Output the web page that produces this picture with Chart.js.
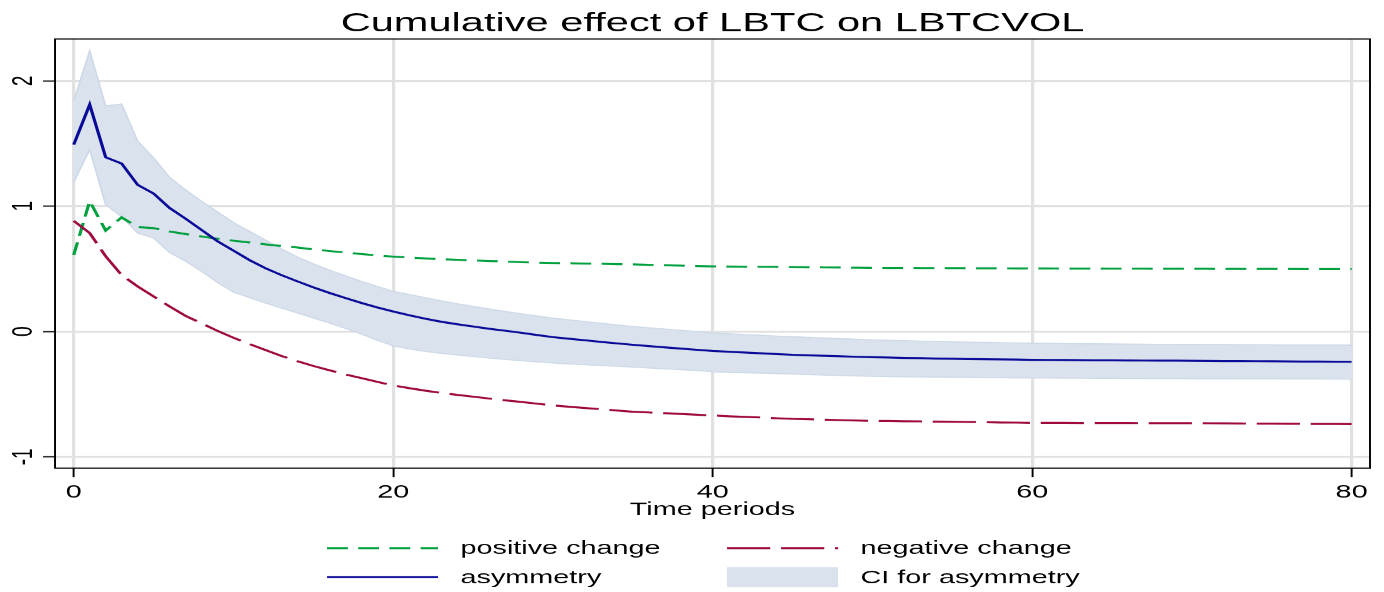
<!DOCTYPE html>
<html>
<head>
<meta charset="utf-8">
<script src="https://cdn.jsdelivr.net/npm/chart.js@4.4.1/dist/chart.umd.min.js"></script>
<style>
  html, body { margin: 0; padding: 0; background: #fff; }
  #chart { display: block; }
</style>
</head>
<body>
<!-- laid out 865px wide, shown 1384px wide: the Stata export is stretched sideways -->
<canvas id="chart" width="865" height="592" style="width:1384px;height:592px"></canvas>
<script>
var STRETCH = 1.6;

var periods = [
  0, 1, 2, 3, 4, 5, 6, 7, 8, 9,
  10, 11, 12, 13, 14, 15, 16, 17, 18, 19,
  20, 21, 22, 23, 24, 25, 26, 27, 28, 29,
  30, 31, 32, 33, 34, 35, 36, 37, 38, 39,
  40, 41, 42, 43, 44, 45, 46, 47, 48, 49,
  50, 51, 52, 53, 54, 55, 56, 57, 58, 59,
  60, 61, 62, 63, 64, 65, 66, 67, 68, 69,
  70, 71, 72, 73, 74, 75, 76, 77, 78, 79, 80
];

var positive = [
  0.61, 1.04, 0.805, 0.91, 0.833, 0.825, 0.798, 0.777, 0.758, 0.74,
  0.724, 0.71, 0.695, 0.682, 0.67, 0.655, 0.642, 0.63, 0.618, 0.607,
  0.597, 0.59, 0.583, 0.577, 0.572, 0.567, 0.562, 0.558, 0.553, 0.549,
  0.546, 0.544, 0.542, 0.54, 0.537, 0.535, 0.532, 0.529, 0.525, 0.522,
  0.519, 0.518, 0.517, 0.516, 0.515, 0.513, 0.512, 0.511, 0.51, 0.509,
  0.508, 0.507, 0.507, 0.506, 0.506, 0.505, 0.505, 0.504, 0.504, 0.503,
  0.503, 0.503, 0.502, 0.502, 0.502, 0.501, 0.501, 0.501, 0.5, 0.5,
  0.5, 0.5, 0.499, 0.499, 0.499, 0.499, 0.499, 0.498, 0.498, 0.498, 0.498
];

var negative = [
  0.883, 0.785, 0.6, 0.45, 0.36, 0.28, 0.2, 0.125, 0.065, 0.005,
  -0.05, -0.1, -0.148, -0.195, -0.237, -0.275, -0.309, -0.342, -0.372, -0.402,
  -0.43, -0.452, -0.472, -0.49, -0.506, -0.52, -0.535, -0.549, -0.562, -0.576,
  -0.59, -0.6, -0.61, -0.62, -0.63, -0.64, -0.646, -0.652, -0.658, -0.664,
  -0.67, -0.676, -0.681, -0.686, -0.692, -0.697, -0.7, -0.704, -0.707, -0.71,
  -0.713, -0.714, -0.716, -0.717, -0.719, -0.72, -0.722, -0.724, -0.726, -0.727,
  -0.729, -0.729, -0.729, -0.73, -0.73, -0.73, -0.73, -0.731, -0.731, -0.731,
  -0.731, -0.732, -0.733, -0.734, -0.735, -0.735, -0.736, -0.737, -0.738, -0.738, -0.739
];

var asymmetry = [
  1.49, 1.81, 1.39, 1.34, 1.17, 1.10, 0.985, 0.90, 0.81, 0.72,
  0.645, 0.57, 0.505, 0.45, 0.40, 0.352, 0.308, 0.267, 0.228, 0.192,
  0.16, 0.13, 0.102, 0.078, 0.058, 0.04, 0.022, 0.006, -0.01, -0.028,
  -0.045, -0.058, -0.07, -0.083, -0.095, -0.106, -0.117, -0.127, -0.137, -0.146,
  -0.155, -0.162, -0.168, -0.174, -0.18, -0.186, -0.19, -0.194, -0.198, -0.202,
  -0.205, -0.208, -0.211, -0.213, -0.216, -0.218, -0.22, -0.221, -0.223, -0.224,
  -0.226, -0.227, -0.228, -0.229, -0.23, -0.23, -0.231, -0.232, -0.233, -0.233,
  -0.234, -0.235, -0.236, -0.236, -0.237, -0.238, -0.239, -0.24, -0.24, -0.241, -0.242
];

var ciUpper = [
  1.84, 2.24, 1.80, 1.815, 1.52, 1.385, 1.23, 1.13, 1.04, 0.955,
  0.87, 0.80, 0.73, 0.66, 0.595, 0.54, 0.49, 0.445, 0.40, 0.36,
  0.32, 0.295, 0.27, 0.245, 0.222, 0.20, 0.18, 0.16, 0.142, 0.124,
  0.107, 0.093, 0.08, 0.066, 0.053, 0.04, 0.03, 0.02, 0.01, 0.0,
  -0.012, -0.018, -0.024, -0.03, -0.036, -0.042, -0.047, -0.052, -0.057, -0.062,
  -0.066, -0.07, -0.073, -0.076, -0.079, -0.082, -0.085, -0.087, -0.089, -0.091,
  -0.093, -0.095, -0.096, -0.097, -0.098, -0.099, -0.1, -0.101, -0.102, -0.102,
  -0.103, -0.104, -0.104, -0.105, -0.105, -0.106, -0.107, -0.107, -0.108, -0.108, -0.109
];

var ciLower = [
  1.19, 1.45, 1.01, 0.915, 0.785, 0.745, 0.63, 0.56, 0.48, 0.39,
  0.314, 0.27, 0.227, 0.187, 0.147, 0.107, 0.067, 0.025, -0.02, -0.07,
  -0.115, -0.14, -0.16, -0.175, -0.188, -0.2, -0.212, -0.223, -0.233, -0.243,
  -0.252, -0.259, -0.266, -0.272, -0.278, -0.284, -0.291, -0.298, -0.305, -0.312,
  -0.322, -0.326, -0.33, -0.333, -0.336, -0.34, -0.344, -0.348, -0.352, -0.355,
  -0.358, -0.36, -0.362, -0.363, -0.364, -0.365, -0.366, -0.368, -0.369, -0.371,
  -0.372, -0.372, -0.373, -0.373, -0.374, -0.374, -0.375, -0.375, -0.376, -0.376,
  -0.377, -0.377, -0.377, -0.378, -0.378, -0.378, -0.379, -0.379, -0.379, -0.38, -0.38
];

var xTicks = [0, 20, 40, 60, 80];
var yTicks = [-1, 0, 1, 2];

var titleText = "Cumulative effect of LBTC on LBTCVOL";
var FONT = '"Liberation Sans", Arial, sans-serif';

function points(vals) {
  return vals.map(function (v, i) { return { x: periods[i], y: v }; });
}

// legend rows, by dataset index: positive / negative, asymmetry / CI
var legendRows = [[2, 1], [0, 4]];

var stataPlugin = {
  id: 'stata',
  afterDraw: function (chart) {
    var ctx = chart.ctx;
    var ca = chart.chartArea;
    var ys = chart.scales.y;

    ctx.save();
    // frame round the plot region
    ctx.strokeStyle = '#000';
    ctx.lineWidth = 1.2;
    ctx.strokeRect(ca.left, ca.top, ca.right - ca.left, ca.bottom - ca.top);

    // title, centred on the plot region
    ctx.fillStyle = '#000';
    ctx.font = '26px ' + FONT;
    ctx.textAlign = 'center';
    ctx.textBaseline = 'alphabetic';
    ctx.fillText(titleText, (ca.left + ca.right) / 2, 31);

    // y tick labels, turned like Stata does
    ctx.font = '19px ' + FONT;
    yTicks.forEach(function (v) {
      ctx.save();
      ctx.translate(19.8, ys.getPixelForValue(v));
      ctx.rotate(-Math.PI / 2);
      ctx.fillText(String(v), 0, 0);
      ctx.restore();
    });

    // legend, two columns
    var colKey = [204.4, 454.4];
    var keyW = 69.4;
    var rowY = [548, 577];
    ctx.font = '18px ' + FONT;
    ctx.textAlign = 'left';
    ctx.textBaseline = 'middle';
    legendRows.forEach(function (row, r) {
      row.forEach(function (di, c) {
        var ds = chart.data.datasets[di];
        var x0 = colKey[c];
        var y = rowY[r];
        if (ds.fill) {
          ctx.fillStyle = ds.backgroundColor;
          ctx.fillRect(x0, y - 10, keyW, 20);
        } else {
          ctx.strokeStyle = ds.borderColor;
          ctx.lineWidth = ds.borderWidth;
          ctx.setLineDash(ds.borderDash || []);
          ctx.beginPath();
          ctx.moveTo(x0, y);
          ctx.lineTo(x0 + keyW, y);
          ctx.stroke();
          ctx.setLineDash([]);
        }
        ctx.fillStyle = '#000';
        ctx.fillText(ds.label, x0 + keyW + 14, y + 1);
      });
    });
    ctx.restore();
  }
};

var ctx = document.getElementById('chart').getContext('2d');

// Chart.js draws the last dataset first, so the CI band goes at the end
new Chart(ctx, {
  type: 'line',
  data: {
    datasets: [
      {
        label: 'asymmetry',
        data: points(asymmetry),
        borderColor: '#0a0a98',
        borderWidth: 2,
        pointRadius: 0,
        fill: false
      },
      {
        label: 'negative change',
        data: points(negative),
        borderColor: '#9e0a40',
        borderWidth: 2,
        borderDash: [27, 6.75],
        pointRadius: 0,
        fill: false
      },
      {
        label: 'positive change',
        data: points(positive),
        borderColor: '#00a03e',
        borderWidth: 2,
        borderDash: [13, 6.5],
        pointRadius: 0,
        fill: false
      },
      {
        label: 'CI upper',
        data: points(ciUpper),
        borderColor: 'rgb(205, 216, 232)',
        borderWidth: 1,
        pointRadius: 0,
        fill: false
      },
      {
        label: 'CI for asymmetry',
        data: points(ciLower),
        borderColor: 'rgb(205, 216, 232)',
        borderWidth: 1,
        backgroundColor: 'rgb(217, 226, 237)',
        pointRadius: 0,
        fill: '-1'
      }
    ]
  },
  options: {
    responsive: false,
    devicePixelRatio: STRETCH,
    animation: false,
    layout: {
      padding: { top: 39, right: 8.75, bottom: 70, left: 0 }
    },
    plugins: {
      legend: { display: false },
      title: { display: false },
      tooltip: { enabled: false }
    },
    scales: {
      x: {
        type: 'linear',
        min: -1.17,
        max: 81.15,
        afterBuildTicks: function (s) { s.ticks = xTicks.map(function (v) { return { value: v }; }); },
        afterFit: function (s) { s.height = 54; },
        grid: {
          color: '#e1e1e1',
          lineWidth: 2,
          tickLength: 9,
          tickColor: '#000',
          tickWidth: 1.2
        },
        border: { display: false },
        ticks: {
          color: '#000',
          font: { family: FONT, size: 18 },
          padding: 4.5,
          maxRotation: 0,
          autoSkip: false
        },
        title: {
          display: true,
          text: 'Time periods',
          color: '#000',
          font: { family: FONT, size: 18 },
          padding: { top: 0, bottom: 1 }
        }
      },
      y: {
        type: 'linear',
        min: -1.09,
        max: 2.333,
        afterBuildTicks: function (s) { s.ticks = yTicks.map(function (v) { return { value: v }; }); },
        afterFit: function (s) { s.width = 34.4; },
        grid: {
          color: '#e1e1e1',
          lineWidth: 2,
          tickLength: 7.5,
          tickColor: '#000',
          tickWidth: 1.2
        },
        border: { display: false },
        ticks: { display: false }
      }
    }
  },
  plugins: [stataPlugin]
});
</script>
</body>
</html>
